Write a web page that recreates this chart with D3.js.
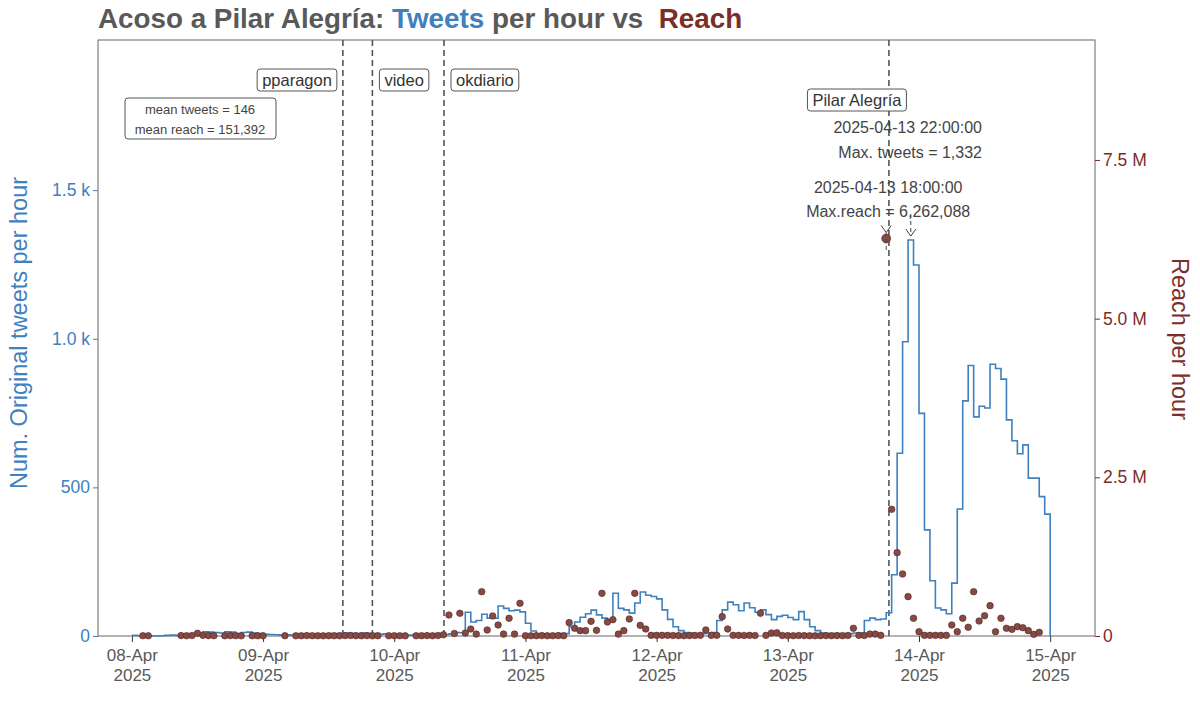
<!DOCTYPE html>
<html><head><meta charset="utf-8">
<script src="https://cdn.jsdelivr.net/npm/d3@7"></script>
<style>body{margin:0;background:#fff;font-family:"Liberation Sans",Arial,sans-serif}</style>
</head><body><svg id="chart" width="1200" height="720"></svg>
<script>
// hourly series, hour 0 = 2025-04-08 00:00
const tweets = [
  2,1,2,1,0,1,2,3,2,3,4,6,8,14,13,12,10,14,13,8,12,13,10,8,
  6,5,4,3,4,3,2,3,4,5,6,7,8,8,9,10,9,8,10,9,8,6,7,5,
  4,5,3,3,2,4,3,4,5,5,7,12,11,80,47,52,73,60,60,101,93,85,87,81,
  43,17,7,7,5,5,8,8,31,47,63,75,87,71,60,55,144,93,88,77,111,148,137,133,
  125,88,56,31,18,12,10,8,8,10,12,52,88,114,105,85,111,95,80,88,72,55,66,70,
  62,55,82,55,31,18,10,8,8,8,8,8,10,10,52,60,55,57,78,206,615,990,1332,1248,
  749,357,186,94,88,75,178,427,791,910,737,773,767,914,900,864,727,657,613,643,531,531,469,410,
  0
];
// reach per hour, thousands (null = no point)
const reachK = [
  null,null,5,4,null,null,null,null,null,6,5,8,42,10,6,5,null,4,6,5,3,null,5,4,
  4,null,null,null,5,null,3,4,6,5,4,3,5,4,3,6,8,5,4,6,3,5,null,4,
  5,4,3,null,4,5,6,4,8,20,331,40,358,47,110,30,698,95,315,173,30,279,30,515,
  5,4,5,6,4,5,6,5,210,121,84,84,231,89,672,221,257,30,84,268,672,168,110,10,
  10,10,10,8,6,5,6,8,10,95,10,10,305,110,10,10,8,10,8,358,10,47,50,8,
  6,5,8,6,5,4,5,6,5,6,5,8,121,10,8,30,30,10,6262,1996,1313,977,620,279,
  68,10,10,10,10,10,173,68,279,137,698,236,320,478,68,279,121,105,147,131,84,26,58,null,
  null
];
const dayTicks = [0,24,48,72,96,120,144,168];
const leftTicks = [0,500,1000,1500];
const leftLabels = ["0","500","1.0 k","1.5 k"];
const rightTicks = [0,2.5e6,5e6,7.5e6];
const rightLabels = ["0","2.5 M","5.0 M","7.5 M"];
const events = [
  {name:"pparagon", hour:38.6, side:"left", y:80},
  {name:"video", hour:44, side:"right", y:80},
  {name:"okdiario", hour:57.1, side:"right", y:80},
  {name:"Pilar Alegría", hour:138.5, side:"center", y:100}
];

const blue = "#3f80bf", red = "#7b2e28", grey = "#595959";
const start = Date.UTC(2025,3,8);
const hourDate = h => new Date(start + h*3600e3);
const svg = d3.select("#chart");
const m = {left:98, right:1095, top:40, bottom:636};

const x = d3.scaleUtc().domain([hourDate(-6.2), hourDate(176.2)]).range([m.left, m.right]);
const yL = d3.scaleLinear().domain([0,2005]).range([m.bottom, m.top]);
const yR = d3.scaleLinear().domain([0,9.39e6]).range([m.bottom, m.top]);

// title
const title = svg.append("text").attr("x",98).attr("y",28).attr("font-size",27.8).attr("font-weight","bold").attr("fill",grey);
title.append("tspan").text("Acoso a Pilar Alegría: ");
title.append("tspan").attr("fill",blue).text("Tweets");
title.append("tspan").text(" per hour vs\u00a0 ");
title.append("tspan").attr("fill",red).text("Reach");

// panel border
svg.append("rect").attr("x",m.left).attr("y",m.top).attr("width",m.right-m.left).attr("height",m.bottom-m.top)
  .attr("fill","none").attr("stroke","#666").attr("stroke-width",1);

// axes
const xAxis = svg.append("g").attr("transform",`translate(0,${m.bottom})`)
  .call(d3.axisBottom(x).tickValues(dayTicks.map(hourDate)).tickSize(6).tickFormat(""));
xAxis.select(".domain").remove();
xAxis.selectAll(".tick line").attr("stroke","#333");
xAxis.selectAll(".tick").append("text").attr("fill",grey).attr("font-size",17).attr("text-anchor","middle")
  .each(function(d){
    const t = d3.select(this);
    t.append("tspan").attr("x",0).attr("y",25).text(d3.utcFormat("%d-%b")(d));
    t.append("tspan").attr("x",0).attr("y",45).text(d3.utcFormat("%Y")(d));
  });

const lAxis = svg.append("g").attr("transform",`translate(${m.left},0)`)
  .call(d3.axisLeft(yL).tickValues(leftTicks).tickSize(5).tickFormat((d,i)=>leftLabels[i]));
lAxis.select(".domain").remove();
lAxis.selectAll(".tick line").attr("stroke",blue);
lAxis.selectAll(".tick text").attr("fill",blue).attr("font-size",17.5);

const rAxis = svg.append("g").attr("transform",`translate(${m.right},0)`)
  .call(d3.axisRight(yR).tickValues(rightTicks).tickSize(5).tickFormat((d,i)=>rightLabels[i]));
rAxis.select(".domain").remove();
rAxis.selectAll(".tick line").attr("stroke",red);
rAxis.selectAll(".tick text").attr("fill",red).attr("font-size",17.5);

svg.append("text").attr("transform","translate(27,333) rotate(-90)").attr("text-anchor","middle")
  .attr("font-size",23.5).attr("fill",blue).text("Num. Original tweets per hour");
svg.append("text").attr("transform","translate(1172,339) rotate(90)").attr("text-anchor","middle")
  .attr("font-size",23.5).attr("fill",red).text("Reach per hour");

// event lines
events.forEach(e => {
  const ex = x(hourDate(e.hour));
  svg.append("line").attr("x1",ex).attr("x2",ex).attr("y1",m.top).attr("y2",m.bottom)
    .attr("stroke","#555").attr("stroke-width",1.6).attr("stroke-dasharray","6,4");
  const g = svg.append("g");
  const t = g.append("text").attr("y",e.y+6).attr("font-size",16.5).attr("fill","#333").text(e.name);
  const w = t.node().getComputedTextLength();
  let tx = e.side==="left" ? ex-6-w-5 : e.side==="right" ? ex+7+5 : ex-32-w/2;
  t.attr("x",tx);
  g.insert("rect","text").attr("x",tx-5).attr("y",e.y-11).attr("width",w+10).attr("height",22)
    .attr("rx",3).attr("fill","#fff").attr("stroke","#555");
});

// mean box
svg.append("rect").attr("x",125).attr("y",98).attr("width",151).attr("height",41).attr("rx",3)
  .attr("fill","#fff").attr("stroke","#555");
svg.append("text").attr("x",200).attr("y",114).attr("text-anchor","middle").attr("font-size",13).attr("fill","#444").text("mean tweets = 146");
svg.append("text").attr("x",200).attr("y",134).attr("text-anchor","middle").attr("font-size",13).attr("fill","#444").text("mean reach = 151,392");

// tweets step line
const line = d3.line().x((d,i)=>x(hourDate(i))).y(d=>yL(d)).curve(d3.curveStepAfter);
svg.append("path").datum(tweets).attr("d",line).attr("fill","none").attr("stroke",blue).attr("stroke-width",1.6);

// reach dots
const pts = reachK.map((v,i)=>({h:i,v})).filter(d=>d.v!==null);
svg.append("g").selectAll("circle").data(pts).join("circle")
  .attr("cx",d=>x(hourDate(d.h))).attr("cy",d=>yR(d.v*1000)).attr("r",d=>d.v>3000?4.5:3.3)
  .attr("fill","#844a44").attr("stroke","#5a2520").attr("stroke-width",0.6);

// max annotations
const maxT = d3.maxIndex(tweets), maxR = d3.maxIndex(reachK);
const tx0 = x(hourDate(maxT+0.5)), rx0 = x(hourDate(maxR));
svg.append("text").attr("x",982).attr("y",133).attr("text-anchor","end").attr("font-size",16).attr("fill","#444").text("2025-04-13 22:00:00");
svg.append("text").attr("x",982).attr("y",158).attr("text-anchor","end").attr("font-size",16).attr("fill","#444").text("Max. tweets = 1,332");
svg.append("text").attr("x",rx0+2).attr("y",193).attr("text-anchor","middle").attr("font-size",16).attr("fill","#444").text("2025-04-13 18:00:00");
svg.append("text").attr("x",rx0+2).attr("y",217).attr("text-anchor","middle").attr("font-size",16).attr("fill","#444").text("Max.reach = 6,262,088");
[[tx0,yL(tweets[maxT])-4,164],[rx0,yR(reachK[maxR]*1000)-6,200]].forEach(([ax,ay,y0])=>{
  svg.append("line").attr("x1",ax).attr("x2",ax).attr("y1",y0+50).attr("y2",ay).attr("stroke","#444").attr("stroke-dasharray","4,3");
  svg.append("path").attr("d",`M${ax-5},${ay-7}L${ax},${ay}L${ax+5},${ay-7}`).attr("fill","none").attr("stroke","#444");
});
</script></body></html>
